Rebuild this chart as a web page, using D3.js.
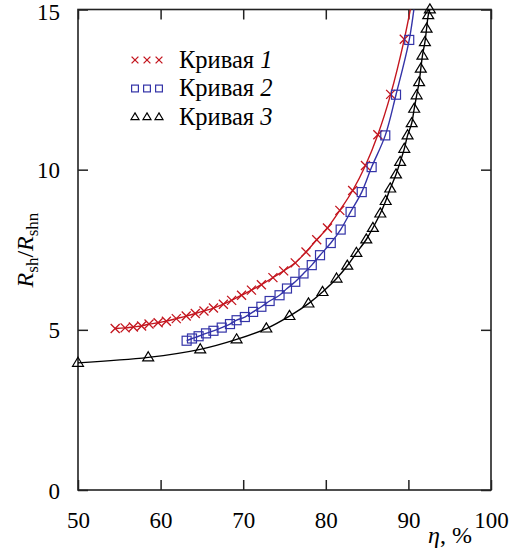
<!DOCTYPE html>
<html>
<head>
<meta charset="utf-8">
<script src="https://cdn.jsdelivr.net/npm/d3@7"></script>
<style>
  body { margin: 0; background: #fff; }
</style>
</head>
<body>
<script>
const width = 518;
const height = 553;

// Кривая 1 (крестики)
const eta1 = [54.5, 55.7, 56.7, 57.7, 58.6, 59.7, 60.7, 61.9, 63.1, 64.2, 65.25, 66.4, 67.6, 68.6, 69.8, 71.0, 72.2, 73.6, 74.9, 76.3, 77.6, 78.9, 80.2, 81.7, 83.25, 84.8, 86.3, 87.85, 89.5];
const r1   = [5.04, 5.06, 5.09, 5.12, 5.18, 5.22, 5.27, 5.35, 5.43, 5.51, 5.59, 5.68, 5.80, 5.92, 6.08, 6.24, 6.41, 6.63, 6.84, 7.09, 7.43, 7.81, 8.18, 8.73, 9.35, 10.13, 11.09, 12.35, 14.07];
const lineEnd1 = [90.6, 15.5];

// Кривая 2 (квадраты)
const eta2 = [63.15, 63.8, 64.6, 65.5, 66.4, 67.4, 68.4, 69.2, 70.2, 71.2, 72.2, 73.2, 74.4, 75.3, 76.3, 77.3, 78.3, 79.3, 80.6, 81.8, 83.0, 84.35, 85.55, 87.2, 88.5, 90.1];
const r2   = [4.66, 4.73, 4.80, 4.89, 4.97, 5.07, 5.18, 5.30, 5.40, 5.56, 5.72, 5.90, 6.08, 6.29, 6.50, 6.76, 7.02, 7.33, 7.71, 8.13, 8.68, 9.30, 10.08, 11.07, 12.34, 14.05];
const lineEnd2 = [90.9, 15.5];

// Кривая 3 (треугольники)
const eta3 = [50.0, 58.5, 64.8, 69.2, 72.8, 75.6, 77.9, 79.6, 81.3, 82.6, 83.7, 84.9, 85.7, 86.6, 87.25, 87.8, 88.5, 89.0, 89.5, 89.9, 90.4, 90.7, 91.0, 91.3, 91.5, 91.7, 92.0, 92.2, 92.4, 92.6];
const r3   = [3.97, 4.14, 4.39, 4.70, 5.04, 5.43, 5.82, 6.18, 6.60, 7.00, 7.40, 7.82, 8.18, 8.63, 9.02, 9.41, 9.85, 10.24, 10.65, 11.07, 11.45, 11.90, 12.32, 12.73, 13.15, 13.56, 13.98, 14.40, 14.82, 15.0];
const lineEnd3 = [92.75, 15.5];

const xTicks = [50, 60, 70, 80, 90, 100];
const yTicks = [0, 5, 10, 15];
const legendNames = ["1", "2", "3"];

const red = "#c4161f";
const blue = "#3434a8";
const black = "#000";
const serif = "'Liberation Serif', 'DejaVu Serif', serif";

const m = { left: 78, right: 491, top: 9.5, bottom: 490 };

const svg = d3.select("body").append("svg")
  .attr("width", width)
  .attr("height", height)
  .style("font-family", serif);

const x = d3.scaleLinear().domain([50, 100]).range([m.left, m.right]);
const y = d3.scaleLinear().domain([0, 15]).range([m.bottom, m.top]);

svg.append("clipPath").attr("id", "clip")
  .append("rect")
    .attr("x", m.left).attr("y", m.top)
    .attr("width", m.right - m.left).attr("height", m.bottom - m.top);

// axes, ticks pointing inward
const tickLen = 10;
const gx = svg.append("g")
  .attr("transform", "translate(0," + m.bottom + ")")
  .call(d3.axisBottom(x).tickValues(xTicks).tickSize(-tickLen).tickPadding(tickLen + 12).tickFormat(d3.format("d")));
const gy = svg.append("g")
  .attr("transform", "translate(" + m.left + ",0)")
  .call(d3.axisLeft(y).tickValues(yTicks).tickSize(-tickLen).tickPadding(tickLen + 8).tickFormat(d3.format("d")));
svg.append("g")
  .attr("transform", "translate(0," + m.top + ")")
  .call(d3.axisTop(x).tickValues(xTicks).tickSize(-tickLen).tickFormat(""));
svg.append("g")
  .attr("transform", "translate(" + m.right + ",0)")
  .call(d3.axisRight(y).tickValues(yTicks).tickSize(-tickLen).tickFormat(""));

svg.selectAll(".domain").remove();
svg.selectAll("g").attr("font-family", null);
svg.selectAll(".tick line").attr("stroke", "#222").attr("stroke-width", 1.5);
gx.selectAll("text").style("font-size", "23px").attr("font-family", serif).attr("fill", "#000");
gy.selectAll("text").style("font-size", "23px").attr("font-family", serif).attr("fill", "#000")
  .attr("dy", d => d === 15 ? "0.45em" : "0.35em");

svg.append("rect")
  .attr("x", m.left).attr("y", m.top)
  .attr("width", m.right - m.left).attr("height", m.bottom - m.top)
  .attr("fill", "none").attr("stroke", "#222").attr("stroke-width", 1.6);

// curves
const line = d3.line()
  .x(d => x(d[0]))
  .y(d => y(d[1]))
  .curve(d3.curveCatmullRom.alpha(0.5));

const series = [
  { xs: eta1, ys: r1, end: lineEnd1, color: red, shape: "cross" },
  { xs: eta2, ys: r2, end: lineEnd2, color: blue, shape: "square" },
  { xs: eta3, ys: r3, end: lineEnd3, color: black, shape: "tri" }
];

function marker(g, shape, color, cx, cy, s) {
  if (shape === "cross") {
    g.append("path")
      .attr("d", `M${cx - s},${cy - s}L${cx + s},${cy + s}M${cx - s},${cy + s}L${cx + s},${cy - s}`)
      .attr("stroke", color).attr("stroke-width", 1.3).attr("fill", "none");
  } else if (shape === "square") {
    g.append("rect")
      .attr("x", cx - s).attr("y", cy - s).attr("width", 2 * s).attr("height", 2 * s)
      .attr("stroke", color).attr("stroke-width", 1.2).attr("fill", "none");
  } else {
    const h = s * 1.75;
    g.append("path")
      .attr("d", `M${cx},${cy - h * 0.62}L${cx + s * 1.05},${cy + h * 0.38}L${cx - s * 1.05},${cy + h * 0.38}Z`)
      .attr("stroke", color).attr("stroke-width", 1.2).attr("fill", "none");
  }
}

series.forEach(s => {
  const pts = s.xs.map((v, i) => [v, s.ys[i]]);
  svg.append("path")
    .datum(pts.concat([s.end]))
    .attr("clip-path", "url(#clip)")
    .attr("d", line)
    .attr("fill", "none")
    .attr("stroke", s.color)
    .attr("stroke-width", 1.4);
  const g = svg.append("g");
  const size = s.shape === "cross" ? 4.5 : s.shape === "square" ? 4.5 : 5.2;
  pts.forEach(p => marker(g, s.shape, s.color, x(p[0]), y(p[1]), size));
});

// legend
const legendY = [60, 88.5, 117];
series.forEach((s, i) => {
  const g = svg.append("g");
  [135, 147, 159].forEach(cx => marker(g, s.shape, s.color, cx, legendY[i], s.shape === "tri" ? 3.8 : 3.4));
  const t = svg.append("text")
    .attr("x", 179).attr("y", legendY[i] + 7.5)
    .attr("font-family", serif)
    .style("font-size", "24.5px");
  t.append("tspan").text("Кривая ");
  t.append("tspan").style("font-style", "italic").text(legendNames[i]);
});

// axis titles
const xt = svg.append("text")
  .attr("x", 428).attr("y", 543)
  .attr("font-family", serif)
  .style("font-size", "24px");
xt.append("tspan").style("font-style", "italic").text("η");
xt.append("tspan").text(", %");

const yt = svg.append("text")
  .attr("transform", "translate(33,250) rotate(-90)")
  .attr("text-anchor", "middle")
  .attr("font-family", serif)
  .style("font-size", "24px");
yt.append("tspan").style("font-style", "italic").text("R");
yt.append("tspan").attr("dy", 5).style("font-size", "17px").text("sh");
yt.append("tspan").attr("dy", -5).text("/");
yt.append("tspan").style("font-style", "italic").text("R");
yt.append("tspan").attr("dy", 5).style("font-size", "17px").text("shn");
</script>
</body>
</html>
